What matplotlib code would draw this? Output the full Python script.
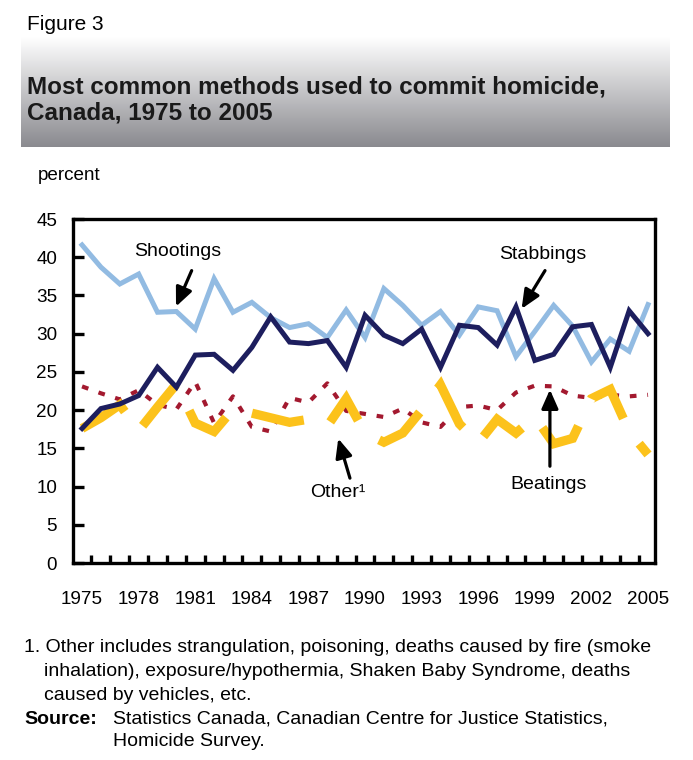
import matplotlib
matplotlib.use('Agg')
import matplotlib.pyplot as plt
import numpy as np

plt.rcParams['font.family'] = ['Liberation Sans', 'DejaVu Sans']

years = list(range(1975, 2006))
shootings = [41.6, 38.7, 36.5, 37.8, 32.8, 32.9, 30.6, 37.2, 32.8, 34.1, 32.1, 30.8, 31.3, 29.5, 33.1,
             29.5, 35.9, 33.7, 31.1, 32.9, 29.8, 33.5, 33.0, 27.0, 30.3, 33.7, 31.0, 26.3, 29.3, 27.7, 33.8]
stabbings = [17.6, 20.2, 20.8, 21.9, 25.6, 23.0, 27.2, 27.3, 25.2, 28.2, 32.2, 28.9, 28.7, 29.1, 25.6,
             32.4, 29.8, 28.7, 30.6, 25.6, 31.1, 30.8, 28.5, 33.5, 26.5, 27.3, 30.9, 31.2, 25.6, 33.0, 30.0]
beatings = [23.1, 22.2, 21.4, 22.6, 20.7, 20.1, 23.7, 18.3, 21.8, 17.8, 17.2, 21.6, 21.0, 23.5, 19.9,
            19.5, 19.1, 20.2, 18.4, 17.8, 20.4, 20.6, 20.0, 22.3, 23.2, 23.1, 21.9, 21.6, 22.0, 21.8, 22.0]
other = [17.6, 19.0, 20.7, 17.3, 20.4, 23.4, 18.3, 17.2, 20.1, 19.6, 19.0, 18.4, 18.8, 17.9, 21.5,
         17.0, 15.8, 17.0, 20.0, 23.3, 18.2, 15.7, 18.8, 17.0, 19.1, 15.6, 16.3, 21.5, 22.7, 17.2, 14.2]
xtick_labels = [1975, 1978, 1981, 1984, 1987, 1990, 1993, 1996, 1999, 2002, 2005]
yticks = list(range(0, 50, 5))

W, H = 693, 760
fig = plt.figure(figsize=(W / 100, H / 100), dpi=100)

def fx(px):
    return px / W

def fy(py):
    return 1 - py / H

# Title gradient box
axt = fig.add_axes([fx(21), fy(147), fx(670) - fx(21), fy(37) - fy(147)])
grad = np.linspace(0, 1, 256)[:, None]
top = np.array([1.0, 1.0, 1.0])
bot = np.array([0.54, 0.54, 0.56])
img = top[None, None, :] * (1 - grad[:, :, None]) + bot[None, None, :] * grad[:, :, None]
axt.imshow(img, aspect='auto', extent=[0, 1, 0, 1])
axt.set_axis_off()

fig.text(fx(27), fy(24), 'Figure 3', fontsize=15, va='center', ha='left')
fig.text(fx(27), fy(87), 'Most common methods used to commit homicide,', fontsize=17.5,
         fontweight='bold', va='center', ha='left', color='#1a1a1a')
fig.text(fx(27), fy(113), 'Canada, 1975 to 2005', fontsize=17.5,
         fontweight='bold', va='center', ha='left', color='#1a1a1a')
fig.text(fx(38), fy(175), 'percent', fontsize=13.6, va='center', ha='left')

ax = fig.add_axes([fx(73), fy(563), fx(655) - fx(73), fy(219) - fy(563)])
ax.set_xlim(1974.52, 2005.37)
ax.set_ylim(0, 45)

lw_o = 6.6
ax.plot(years, beatings, color='#a3192f', lw=3.0, linestyle=(0, (1.6, 2.6)),
        dash_capstyle='butt', zorder=2)
ax.plot(years, other, color='#fcc21b', lw=lw_o, linestyle=(0, (38.2 / lw_o, 21.6 / lw_o)),
        dash_capstyle='butt', solid_joinstyle='miter', dash_joinstyle='miter', zorder=3)
ax.plot(years, shootings, color='#92bbe2', lw=3.6, solid_joinstyle='miter', zorder=4)
ax.plot(years, stabbings, color='#1d1e5e', lw=3.6, solid_joinstyle='miter', zorder=5)

for s in ax.spines.values():
    s.set_linewidth(2.4)
ax.set_yticks(yticks)
ax.tick_params(axis='y', direction='in', length=8, width=2.4, labelsize=13.6, pad=11.5)
ax.set_xticks(xtick_labels)
ax.set_xticklabels([str(v) for v in xtick_labels])
ax.set_xticks([y + 0.5 for y in range(1975, 2005)], minor=True)
ax.tick_params(axis='x', which='major', length=0, labelsize=13.6, pad=20)
ax.tick_params(axis='x', which='minor', direction='in', length=6, width=2.4)

arrow_kw = dict(arrowstyle='-|>,head_length=0.95,head_width=0.42', color='black', lw=2.3,
                mutation_scale=12, shrinkA=0, shrinkB=0)
ax.text(1980.09, 40.7, 'Shootings', fontsize=14, ha='center', va='center')
ax.annotate('', xy=(1979.98, 33.55), xytext=(1980.81, 38.25), arrowprops=arrow_kw)
ax.text(1999.43, 40.3, 'Stabbings', fontsize=14, ha='center', va='center')
ax.annotate('', xy=(1998.3, 33.25), xytext=(1999.54, 38.25), arrowprops=arrow_kw)
ax.text(1988.57, 9.27, 'Other\u00b9', fontsize=14, ha='center', va='center')
ax.annotate('', xy=(1988.58, 16.28), xytext=(1989.2, 11.1), arrowprops=arrow_kw)
ax.text(1999.75, 10.3, 'Beatings', fontsize=14, ha='center', va='center')
ax.annotate('', xy=(1999.8, 22.68), xytext=(1999.8, 12.66), arrowprops=arrow_kw)

fs_note = 14.0
fig.text(fx(24), fy(647), '1. Other includes strangulation, poisoning, deaths caused by fire (smoke',
         fontsize=fs_note, va='center', ha='left')
fig.text(fx(44), fy(672), 'inhalation), exposure/hypothermia, Shaken Baby Syndrome, deaths',
         fontsize=fs_note, va='center', ha='left')
fig.text(fx(44), fy(695), 'caused by vehicles, etc.', fontsize=fs_note, va='center', ha='left')
fig.text(fx(24), fy(719), 'Source:', fontsize=fs_note, fontweight='bold', va='center', ha='left')
fig.text(fx(113), fy(719), 'Statistics Canada, Canadian Centre for Justice Statistics,',
         fontsize=fs_note, va='center', ha='left')
fig.text(fx(113), fy(741), 'Homicide Survey.', fontsize=fs_note, va='center', ha='left')

fig.savefig('out.png', dpi=100)
